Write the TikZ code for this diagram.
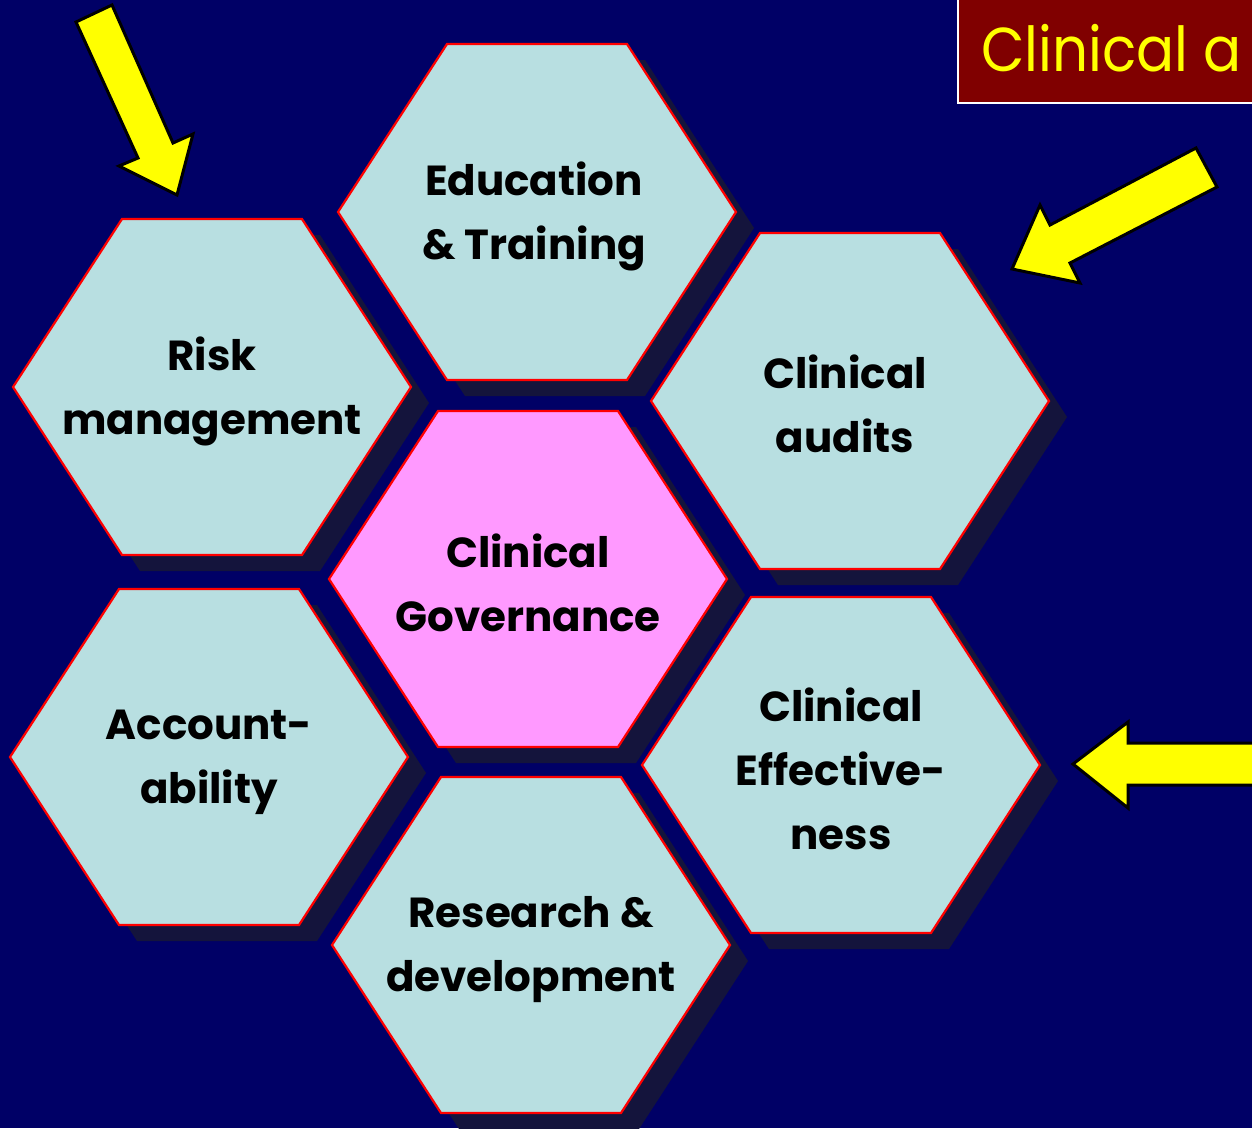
\documentclass[tikz,border=0pt]{standalone}
\usepackage{fontspec}
\setmainfont{Poppins}
\newfontfamily\bannerfont[FakeStretch=0.91]{Poppins}
\definecolor{navybg}{HTML}{000066}
\definecolor{cellfill}{HTML}{B8DFE1}
\definecolor{corefill}{HTML}{FF99FF}
\definecolor{cellshade}{HTML}{14143C}
\definecolor{titlered}{HTML}{800000}
\definecolor{arrowyellow}{HTML}{FFFF00}
% flat-topped hexagon outline around the origin
\newcommand\hexoutline{(-199,0) -- (-90,-168) -- (90,-168) -- (199,0) -- (90,168) -- (-90,168) -- cycle}
\newcommand\hexshade[2]{\fill[cellshade, shift={(#1+18,#2+16)}] \hexoutline;}
\newcommand\hexcell[3]{\filldraw[cellborder, fill=#3, shift={(#1,#2)}] \hexoutline;}
\begin{document}
\begin{tikzpicture}[x=1pt, y=-1pt,
  cellborder/.style={draw=red, line width=2.2pt, line join=miter},
  celltext/.style={align=center, text=black, font=\bfseries\fontsize{42}{64}\selectfont, inner sep=0pt},
  bigarrow/.style={fill=arrowyellow, draw=black, line width=3pt, line join=miter},
  titlebox/.style={fill=titlered, draw=white, line width=2pt}]
  \useasboundingbox (0,0) rectangle (1252,1128);
  \clip (0,0) rectangle (1252,1128);
  \fill[navybg] (0,0) rectangle (1252,1128);

  % drop shadows, behind every cell
  \hexshade{537}{212}
  \hexshade{212}{387}
  \hexshade{850}{401}
  \hexshade{528}{579}
  \hexshade{209}{757}
  \hexshade{841}{765}
  \hexshade{531}{945}

  % honeycomb cells
  \hexcell{537}{212}{cellfill}
  \hexcell{212}{387}{cellfill}
  \hexcell{850}{401}{cellfill}
  \hexcell{528}{579}{corefill}
  \hexcell{209}{757}{cellfill}
  \hexcell{841}{765}{cellfill}
  \hexcell{531}{945}{cellfill}

  \node[celltext] (edu) at (534,216) {Education\\\& Training};
  \node[celltext] (risk) at (212,391) {Risk\\management};
  \node[celltext] (audit) at (845,404) {Clinical\\audits};
  \node[celltext] (gov) at (528,583) {Clinical\\Governance};
  \node[celltext] (acc) at (209,762) {Account-\\ability};
  \node[celltext] (eff) at (841,769) {Clinical\\Effective-\\ness};
  \node[celltext] (rnd) at (531,950) {Research \&\\development};

  % pointer arrows
  \draw[bigarrow] (76,22) -- (112,5) -- (173,143) -- (193,134) -- (177,195)
    -- (119,166) -- (138,158) -- cycle;
  \draw[bigarrow] (1196,148) -- (1217,187) -- (1070,263) -- (1080,283)
    -- (1012,269) -- (1040,205) -- (1050,225) -- cycle;
  \draw[bigarrow] (1262,743) -- (1128,743) -- (1128,722) -- (1073,764)
    -- (1128,808) -- (1128,785) -- (1262,785);

  % title banner
  \draw[titlebox] (958,-10) rectangle (1270,103);
  \node[anchor=base west, text=arrowyellow, inner sep=0pt,
        font=\bannerfont\fontsize{62}{70}\selectfont] (title) at (981,71) {Clinical a};
\end{tikzpicture}
\end{document}
